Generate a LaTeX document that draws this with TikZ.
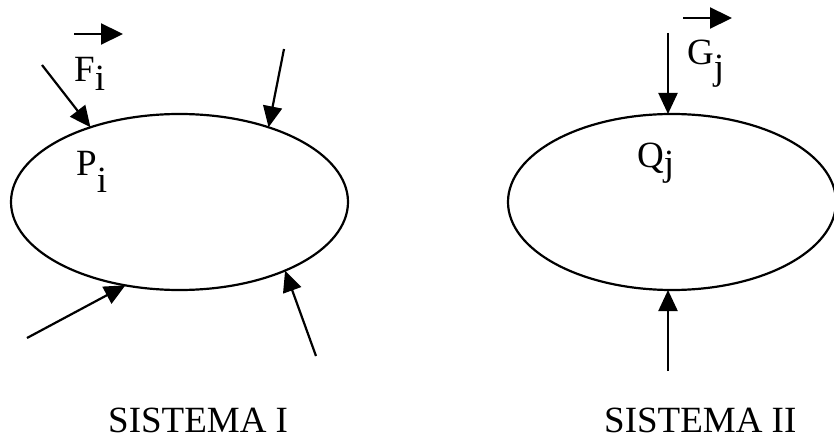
\documentclass[tikz,border=0pt]{standalone}
\usepackage{fontspec}
\setmainfont{Liberation Serif}
\usetikzlibrary{arrows.meta,shapes.geometric}
\begin{document}
\begin{tikzpicture}[x=1pt,y=-1pt,
  body/.style={draw, ellipse, line width=2.2pt, inner sep=0pt, outer sep=0pt},
  force/.style={line width=2.2pt, -{Triangle[length=21pt,width=19pt]}},
  vec/.style={line width=2.2pt, -{Triangle[length=22pt,width=21pt]}},
  lbl/.style={anchor=base west, inner sep=0pt, font=\fontsize{37}{44}\selectfont}]
\useasboundingbox (0,0) rectangle (834,438);
% bodies
\node[body, minimum width=337pt, minimum height=176pt] (s1) at (179.5,202) {};
\node[body, minimum width=328pt, minimum height=176pt] (s2) at (672,202) {};
% forces on system I
\coordinate (t1) at (42,65);
\coordinate (t2) at (284,49);
\coordinate (t3) at (27,338);
\coordinate (t4) at (316,356);
\draw[force] (t1) -- (s1.140);
\draw[force] (t2) -- (s1.40);
\draw[force] (t3) -- (s1.237);
\draw[force] (t4) -- (s1.-33);
% forces on system II
\coordinate (g0) at (668,33);
\coordinate (g1) at (668,371);
\draw[force] (g0) -- (g0 |- s2.north);
\draw[force] (g1) -- (g1 |- s2.south);
% vector marks
\coordinate (fa) at (74,34);
\coordinate (fb) at (123,34);
\draw[vec] (fa) -- (fb);
\coordinate (ga) at (683,18);
\coordinate (gb) at (732,18);
\draw[vec] (ga) -- (gb);
% labels
\node[lbl] (F) at (74,82) {F\raisebox{-9pt}{i}};
\node[lbl] (P) at (76,176) {P\raisebox{-17pt}{i}};
\node[lbl] (G) at (687,65) {G\raisebox{-15pt}{j}};
\node[lbl] (Q) at (637,168) {Q\raisebox{-8pt}{j}};
\node[lbl] (S1) at (108,432) {SISTEMA I};
\node[lbl] (S2) at (604,432) {SISTEMA II};
\end{tikzpicture}
\end{document}
